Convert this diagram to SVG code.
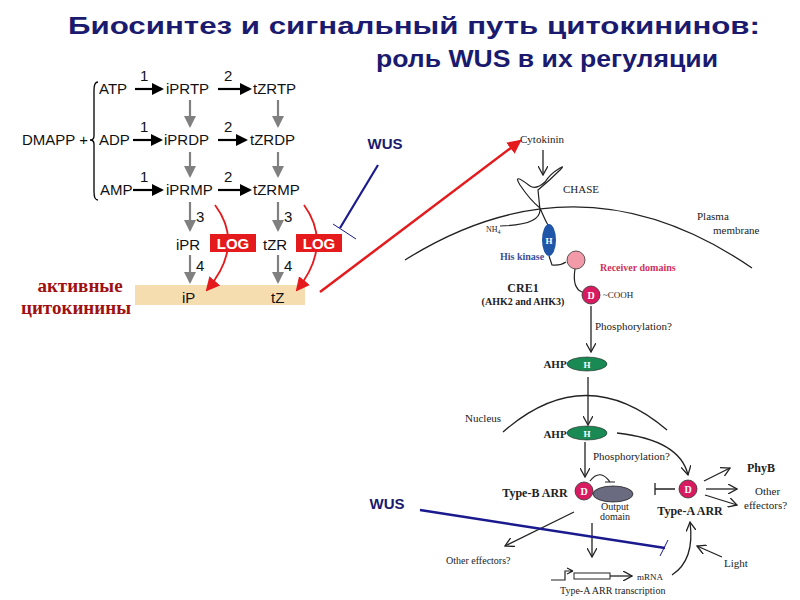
<svg xmlns="http://www.w3.org/2000/svg" width="800" height="600" viewBox="0 0 800 600">
<defs>
<marker id="ak" markerWidth="12" markerHeight="12" refX="10" refY="6" orient="auto" markerUnits="userSpaceOnUse"><path d="M0,0 L12,6 L0,12 z" fill="#000"/></marker>
<marker id="ag" markerWidth="12" markerHeight="12" refX="10" refY="6" orient="auto" markerUnits="userSpaceOnUse"><path d="M0,0 L12,6 L0,12 z" fill="#808080"/></marker>
<marker id="ar" markerWidth="14" markerHeight="14" refX="12" refY="7" orient="auto" markerUnits="userSpaceOnUse"><path d="M0,0 L14,7 L0,14 z" fill="#e41a1c"/></marker>
<marker id="ao" markerWidth="10" markerHeight="10" refX="9" refY="5" orient="auto" markerUnits="userSpaceOnUse"><path d="M0,0 L9,5 L0,10" fill="none" stroke="#222" stroke-width="1.3"/></marker>
</defs>
<style>
.s{font-family:"Liberation Sans",Arial,sans-serif;font-size:15px;fill:#111}
.r{font-family:"Liberation Serif","Times New Roman",serif;fill:#222}
.b{font-weight:bold}
.t{font-family:"Liberation Sans",Arial,sans-serif;font-weight:bold;fill:#1a1a6e;font-size:23px}
.k{stroke:#000;stroke-width:2.2;fill:none;marker-end:url(#ak)}
.g{stroke:#808080;stroke-width:2.2;fill:none;marker-end:url(#ag)}
.l{stroke:#222;stroke-width:1.3;fill:none;marker-end:url(#ao)}
</style>
<rect width="800" height="600" fill="#fff"/>
<text class="t" x="68" y="34" textLength="692" lengthAdjust="spacingAndGlyphs">Биосинтез и сигнальный путь цитокининов:</text>
<text class="t" x="376" y="67" textLength="342" lengthAdjust="spacingAndGlyphs">роль WUS в их регуляции</text>

<g id="biosynthesis">
<rect x="135" y="285" width="170" height="20" fill="#f6ddb0"/>
<text class="s" x="22" y="145">DMAPP +</text>
<path d="M98,82 Q94,82 94,90 L94,136 Q94,140 90,140 Q94,140 94,144 L94,192 Q94,200 98,200" stroke="#000" fill="none" stroke-width="1.3"/>
<g class="s">
<text x="99" y="94">ATP</text><text x="166" y="94">iPRTP</text><text x="253" y="94">tZRTP</text>
<text x="99" y="145">ADP</text><text x="164" y="145">iPRDP</text><text x="250" y="145">tZRDP</text>
<text x="100" y="195">AMP</text><text x="166" y="195">iPRMP</text><text x="253" y="195">tZRMP</text>
<text x="176" y="250">iPR</text><text x="263" y="250">tZR</text>
<text x="182" y="303">iP</text><text x="271" y="303">tZ</text>
<text x="140" y="81">1</text><text x="224" y="81">2</text>
<text x="140" y="132">1</text><text x="224" y="132">2</text>
<text x="140" y="182">1</text><text x="224" y="182">2</text>
<text x="196" y="222">3</text><text x="284" y="222">3</text>
<text x="196" y="271">4</text><text x="284" y="271">4</text>
</g>
<path class="k" d="M135,89 L162,89"/><path class="k" d="M218,89 L250,89"/>
<path class="k" d="M133,140 L161,140"/><path class="k" d="M218,140 L246,140"/>
<path class="k" d="M133,190 L162,190"/><path class="k" d="M218,190 L250,190"/>
<path class="g" d="M190,100 L190,126"/><path class="g" d="M190,152 L190,176"/>
<path class="g" d="M278,100 L278,126"/><path class="g" d="M278,152 L278,176"/>
<path class="g" d="M190,202 L190,230"/><path class="g" d="M278,202 L278,230"/>
<path class="g" d="M190,255 L190,282"/><path class="g" d="M278,255 L278,282"/>
<path d="M215,205 Q245,245 207,290" stroke="#e41a1c" stroke-width="1.8" fill="none" marker-end="url(#ar)"/>
<path d="M304,205 Q333,245 297,290" stroke="#e41a1c" stroke-width="1.8" fill="none" marker-end="url(#ar)"/>
<rect x="210" y="234" width="46" height="18" fill="#e41a1c"/><text class="s b" x="233" y="249" text-anchor="middle" style="fill:#fff">LOG</text>
<rect x="296" y="234" width="46" height="18" fill="#e41a1c"/><text class="s b" x="319" y="249" text-anchor="middle" style="fill:#fff">LOG</text>
<text class="r b" x="80" y="292" text-anchor="middle" font-size="19" style="fill:#a01010">активные</text>
<text class="r b" x="76" y="314" text-anchor="middle" font-size="19" style="fill:#a01010">цитокинины</text>
</g>

<g id="wus1">
<text class="s b" x="385" y="149" text-anchor="middle" font-size="16" style="fill:#1a1a6e">WUS</text>
<path d="M378,165 L340,228" stroke="#1a1a8e" stroke-width="2.2"/>
<path d="M333,224 L356,239" stroke="#1a1a8e" stroke-width="1"/>
</g>
<g id="connectors">
<path d="M320,292 L520,141" stroke="#e41a1c" stroke-width="2.5" fill="none" marker-end="url(#ar)"/>
</g>

<g id="signaling">
<text class="r" x="520" y="143" font-size="11">Cytokinin</text>
<path class="l" d="M543,150 L543,175"/>
<path d="M405,260 Q580,150 752,268" stroke="#222" stroke-width="1.3" fill="none"/>
<text class="r" x="697" y="220" font-size="11">Plasma</text><text class="r" x="713" y="234" font-size="11">membrane</text>
<path d="M500,226 Q540,225 540,210 L538,190 Q550,180 560,170 Q565,165 560,168 Q550,174 545,182 Q536,190 530,186 Q512,172 520,185 Q530,200 540,208 Q545,220 548,225" stroke="#222" stroke-width="1.2" fill="none"/>
<text class="r" x="563" y="193" font-size="11">CHASE</text>
<text class="r" x="486" y="232" font-size="8">NH<tspan font-size="6" dy="2">4</tspan></text>
<path d="M549,256 L552,265 Q560,266 566,262" stroke="#222" stroke-width="1.2" fill="none"/>
<path d="M575,269 Q572,288 582,292" stroke="#222" stroke-width="1.2" fill="none"/>
<ellipse cx="549" cy="240" rx="7" ry="16" fill="#2056a8"/><text class="r b" x="549" y="244" font-size="9" text-anchor="middle" style="fill:#fff">H</text>
<text class="r b" x="500" y="260" font-size="10" style="fill:#3a4f9a">His kinase</text>
<circle cx="576" cy="260" r="9" fill="#f29aa8" stroke="#333" stroke-width="0.8"/>
<text class="r b" x="600" y="271" font-size="10" style="fill:#d03060">Receiver domains</text>
<circle cx="591" cy="295" r="9" fill="#d81b60" stroke="#333" stroke-width="0.8"/><text class="r b" x="591" y="299" font-size="10" text-anchor="middle" style="fill:#fff">D</text>
<text class="r" x="603" y="298" font-size="9">~COOH</text>
<text class="r b" x="523" y="292" font-size="12" text-anchor="middle">CRE1</text>
<text class="r b" x="523" y="305" font-size="10" text-anchor="middle">(AHK2 and AHK3)</text>
<path class="l" d="M591,306 L591,352"/>
<text class="r" x="595" y="330" font-size="11">Phosphorylation?</text>
<text class="r b" x="555" y="368" font-size="11" text-anchor="middle">AHP</text>
<ellipse cx="587" cy="364" rx="20" ry="7" fill="#1a8a55" stroke="#222" stroke-width="0.6"/><text class="r b" x="587" y="368" font-size="9" text-anchor="middle" style="fill:#fff">H</text>
<path class="l" d="M588,377 L588,425"/>
<path d="M503,432 Q585,360 667,430" stroke="#222" stroke-width="1.3" fill="none"/>
<text class="r" x="465" y="422" font-size="11">Nucleus</text>
<text class="r b" x="555" y="438" font-size="11" text-anchor="middle">AHP</text>
<ellipse cx="587" cy="433" rx="20" ry="7" fill="#1a8a55" stroke="#222" stroke-width="0.6"/><text class="r b" x="587" y="437" font-size="9" text-anchor="middle" style="fill:#fff">H</text>
<path class="l" d="M617,433 Q680,440 688,475"/>
<path class="l" d="M585,442 L585,477"/>
<text class="r" x="593" y="460" font-size="11">Phosphorylation?</text>
<text class="r b" x="535" y="497" font-size="12" text-anchor="middle">Type-B ARR</text>
<ellipse cx="613" cy="494" rx="20" ry="8" fill="#6a6a80" stroke="#222" stroke-width="0.8"/>
<circle cx="584" cy="491" r="9" fill="#d81b60" stroke="#333" stroke-width="0.8"/><text class="r b" x="584" y="495" font-size="10" text-anchor="middle" style="fill:#fff">D</text>
<path d="M590,481 Q600,468 610,482 M605,482 L615,482" stroke="#222" stroke-width="1.2" fill="none"/>
<text class="r" x="615" y="510" font-size="10" text-anchor="middle">Output</text>
<text class="r" x="615" y="520" font-size="10" text-anchor="middle">domain</text>
<path d="M675,489 L655,489 M655,483 L655,495" stroke="#222" stroke-width="1.3" fill="none"/>
<circle cx="688" cy="489" r="9" fill="#d81b60" stroke="#333" stroke-width="0.8"/><text class="r b" x="688" y="493" font-size="10" text-anchor="middle" style="fill:#fff">D</text>
<text class="r b" x="690" y="515" font-size="12" text-anchor="middle">Type-A ARR</text>
<path class="l" d="M704,481 L730,468"/><text class="r b" x="747" y="472" font-size="12">PhyB</text>
<path class="l" d="M706,489 L737,489"/>
<path class="l" d="M705,495 L737,505"/>
<text class="r" x="755" y="495" font-size="11">Other</text><text class="r" x="744" y="509" font-size="11">effectors?</text>
<path class="l" d="M574,512 L505,546"/>
<text class="r" x="446" y="564" font-size="10">Other effectors?</text>
<path class="l" d="M592,523 L592,557"/>
<path d="M551,580 L565,580 L565,571 L573,571 M573,571 L567,568 M573,571 L567,574" stroke="#222" stroke-width="1.2" fill="none"/>
<rect x="574" y="573" width="36" height="6" fill="none" stroke="#222" stroke-width="1"/>
<path class="l" d="M610,576 L632,576"/>
<text class="r" x="637" y="580" font-size="9">mRNA</text>
<text class="r" x="560" y="594" font-size="10">Type-A ARR transcription</text>
<path class="l" d="M672,575 Q695,560 690,522"/>
<text class="r" x="724" y="567" font-size="11">Light</text>
<path class="l" d="M722,557 L697,546"/>
</g>

<g id="wus2">
<text class="s b" x="387" y="509" text-anchor="middle" font-size="16" style="fill:#1a1a6e">WUS</text>
<path d="M420,510 L665,548" stroke="#1a1a8e" stroke-width="2.5"/>
<path d="M660,556 L668,540" stroke="#1a1a8e" stroke-width="1"/>
</g>
</svg>
